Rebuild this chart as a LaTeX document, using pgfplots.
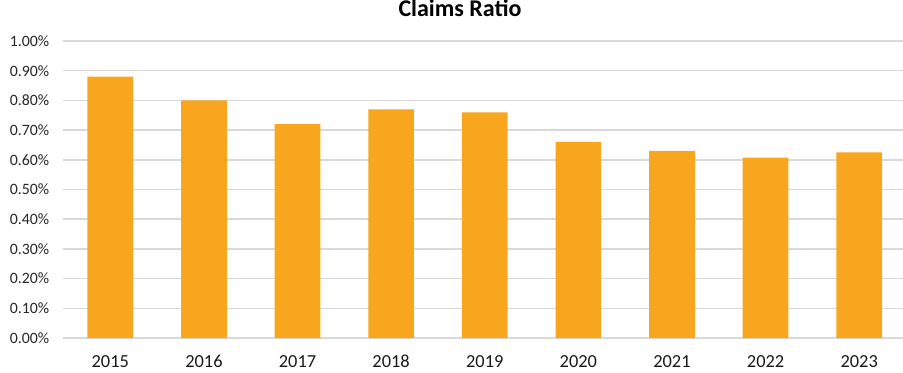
\documentclass[border=0pt]{standalone}
\usepackage{fontspec}
\setmainfont{Carlito}
\usepackage{pgfplots}
\pgfplotsset{compat=1.18}
\definecolor{barc}{HTML}{F9A61F}
\definecolor{gridc}{HTML}{D9D9D9}
\begin{document}
\begin{tikzpicture}
\path[use as bounding box, clip] (0,0) rectangle (451.5pt,186pt);
\begin{axis}[
  at={(31.75pt,17pt)}, anchor=south west,
  scale only axis, width=421.25pt, height=148.5pt,
  xmin=-0.5, xmax=8.5, ymin=0, ymax=1.0,
  /pgf/number format/assume math mode=true,
  axis line style={draw=none},
  major tick length=0pt,
  ytick={0,0.1,0.2,0.3,0.4,0.5,0.6,0.7,0.8,0.9,1.0},
  yticklabel={\pgfmathprintnumber[fixed,fixed zerofill,precision=2]{\tick}\%},
  yticklabel style={font=\fontsize{7.9}{9}\selectfont, color=black!85, inner sep=0pt, anchor=east, xshift=-7pt},
  xtick={0,...,8},
  xticklabels={2015,2016,2017,2018,2019,2020,2021,2022,2023},
  xticklabel style={font=\fontsize{9.2}{10}\selectfont, color=black!90, inner sep=0pt, anchor=base, yshift=-14.7pt},
  ymajorgrids, xmajorgrids=false,
  grid style={gridc, line width=0.75pt},
  clip=false,
]
\addplot[ybar, bar width=22.85pt, fill=barc, draw=none] coordinates {
 (0,0.88) (1,0.80) (2,0.72) (3,0.77) (4,0.76) (5,0.66) (6,0.63) (7,0.607) (8,0.625)
};
\end{axis}
\node[font=\bfseries\fontsize{12}{14}\selectfont, anchor=base] at (230pt,177.8pt) {Claims Ratio};
\end{tikzpicture}
\end{document}
